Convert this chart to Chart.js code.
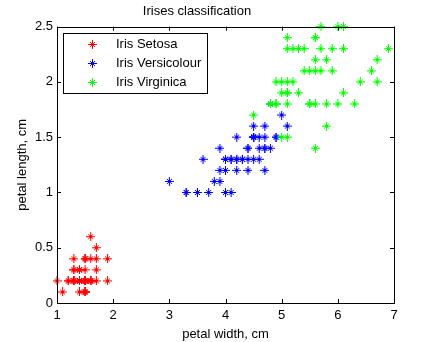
<!DOCTYPE html>
<html>
<head>
<meta charset="utf-8">
<script src="https://cdn.jsdelivr.net/npm/chart.js@4"></script>
<style>
  html, body { margin: 0; padding: 0; background: #fff; }
  #wrap { width: 435px; height: 342px; }
</style>
</head>
<body>
<div id="wrap"><canvas id="iris-canvas" width="435" height="342"></canvas></div>
<script>
/* Fisher iris data: x = petal length, y = petal width (axis titles as in the original figure) */
const SETOSA_X = [1.4,1.4,1.3,1.5,1.4,1.7,1.4,1.5,1.4,1.5,1.5,1.6,1.4,1.1,1.2,1.5,1.3,1.4,1.7,1.5,
  1.7,1.5,1.0,1.7,1.9,1.6,1.6,1.5,1.4,1.6,1.6,1.5,1.5,1.4,1.5,1.2,1.3,1.5,1.3,1.5,
  1.3,1.3,1.3,1.6,1.9,1.4,1.6,1.4,1.5,1.4];
const SETOSA_Y = [0.2,0.2,0.2,0.2,0.2,0.4,0.3,0.2,0.2,0.1,0.2,0.2,0.1,0.1,0.2,0.4,0.4,0.3,0.3,0.3,
  0.2,0.4,0.2,0.5,0.2,0.2,0.4,0.2,0.2,0.2,0.2,0.4,0.1,0.2,0.1,0.2,0.2,0.1,0.2,0.2,
  0.3,0.3,0.2,0.6,0.4,0.3,0.2,0.2,0.2,0.2];

const VERSICOLOUR_X = [4.7,4.5,4.9,4.0,4.6,4.5,4.7,3.3,4.6,3.9,3.5,4.2,4.0,4.7,3.6,4.4,4.5,4.1,4.5,3.9,
  4.8,4.0,4.9,4.7,4.3,4.4,4.8,5.0,4.5,3.5,3.8,3.7,3.9,5.1,4.5,4.5,4.7,4.4,4.1,4.0,
  4.4,4.6,4.0,3.3,4.2,4.2,4.2,4.3,3.0,4.1];
const VERSICOLOUR_Y = [1.4,1.5,1.5,1.3,1.5,1.3,1.6,1.0,1.3,1.4,1.0,1.5,1.0,1.4,1.3,1.4,1.5,1.0,1.5,1.1,
  1.8,1.3,1.5,1.2,1.3,1.4,1.4,1.7,1.5,1.0,1.1,1.0,1.2,1.6,1.5,1.6,1.5,1.3,1.3,1.3,
  1.2,1.4,1.2,1.0,1.3,1.2,1.3,1.3,1.1,1.3];

const VIRGINICA_X = [6.0,5.1,5.9,5.6,5.8,6.6,4.5,6.3,5.8,6.1,5.1,5.3,5.5,5.0,5.1,5.3,5.5,6.7,6.9,5.0,
  5.7,4.9,6.7,4.9,5.7,6.0,4.8,4.9,5.6,5.8,6.1,6.4,5.6,5.1,5.6,6.1,5.6,5.5,4.8,5.4,
  5.6,5.1,5.1,5.9,5.7,5.2,5.0,5.2,5.4,5.1];
const VIRGINICA_Y = [2.5,1.9,2.1,1.8,2.2,2.1,1.7,1.8,1.8,2.5,2.0,1.9,2.1,2.0,2.4,2.3,1.8,2.2,2.3,1.5,
  2.3,2.0,2.0,1.8,2.1,1.8,1.8,1.8,2.1,1.6,1.9,2.0,2.2,1.5,1.4,2.3,2.4,1.8,1.8,2.1,
  2.4,2.3,1.9,2.3,2.5,2.3,1.9,2.0,2.3,1.8];

const CLASS_NAMES = ["Iris Setosa", "Iris Versicolour", "Iris Virginica"];
const X_TICKS = [1, 2, 3, 4, 5, 6, 7];
const Y_TICKS = [0, 0.5, 1, 1.5, 2, 2.5];

(function () {
  const FONT = 'Liberation Sans, Arial, sans-serif';
  const COLORS = ["#ff0000", "#0000ff", "#00ff00"];

  // matlab-like '*' marker: long plus, short diagonals, heavy centre
  function starMarker(color) {
    const c = document.createElement("canvas");
    c.width = 9;
    c.height = 9;
    const g = c.getContext("2d");
    g.fillStyle = color;
    g.fillRect(4, 0, 1, 9);
    g.fillRect(0, 4, 9, 1);
    g.fillRect(3, 3, 3, 3);
    [[2, 2], [6, 2], [2, 6], [6, 6]].forEach(function (p) {
      g.fillRect(p[0], p[1], 1, 1);
    });
    return c;
  }
  const MARKERS = COLORS.map(starMarker);

  function points(xs, ys) {
    return xs.map(function (x, i) { return { x: x, y: ys[i] }; });
  }

  // box round the axes, inward ticks on all four sides, legend inside the plot
  const matlabAxes = {
    id: "matlabAxes",
    afterDraw: function (chart) {
      const ctx = chart.ctx;
      const a = chart.chartArea;
      const xs = chart.scales.x, ys = chart.scales.y;
      ctx.save();
      ctx.strokeStyle = "#000";
      ctx.lineWidth = 1;
      ctx.strokeRect(Math.round(a.left) + 0.5, Math.round(a.top) + 0.5,
        Math.round(a.right - a.left), Math.round(a.bottom - a.top));
      ctx.beginPath();
      X_TICKS.forEach(function (v) {
        const px = Math.round(xs.getPixelForValue(v)) + 0.5;
        ctx.moveTo(px, a.bottom); ctx.lineTo(px, a.bottom - 4);
        ctx.moveTo(px, a.top); ctx.lineTo(px, a.top + 4);
      });
      Y_TICKS.forEach(function (v) {
        const py = Math.round(ys.getPixelForValue(v)) + 0.5;
        ctx.moveTo(a.left, py); ctx.lineTo(a.left + 4, py);
        ctx.moveTo(a.right, py); ctx.lineTo(a.right - 4, py);
      });
      ctx.stroke();

      // legend
      const lx = 63, ly = 33, lw = 144, lh = 60;
      ctx.fillStyle = "#fff";
      ctx.fillRect(lx, ly, lw, lh);
      ctx.strokeRect(lx + 0.5, ly + 0.5, lw, lh);
      ctx.font = "13px " + FONT;
      ctx.textBaseline = "middle";
      CLASS_NAMES.forEach(function (name, i) {
        const cy = 44 + i * 19;
        ctx.drawImage(MARKERS[i], 88, cy - 4);
        ctx.fillStyle = "#000";
        ctx.fillText(name, 116, cy);
      });
      ctx.restore();
    },
  };

  function run() {
    const canvas = document.getElementById("iris-canvas");
    if (!canvas || !window.Chart) return;

    const datasets = [
      points(SETOSA_X, SETOSA_Y),
      points(VERSICOLOUR_X, VERSICOLOUR_Y),
      points(VIRGINICA_X, VIRGINICA_Y),
    ].map(function (data, i) {
      return {
        label: CLASS_NAMES[i],
        data: data,
        order: 2 - i, // later classes drawn over earlier ones
        pointStyle: MARKERS[i],
        pointRadius: 4.5,
        pointHoverRadius: 4.5,
        borderColor: COLORS[i],
        backgroundColor: COLORS[i],
        clip: false,
      };
    });

    new Chart(canvas.getContext("2d"), {
      type: "scatter",
      data: { datasets: datasets },
      options: {
        responsive: false,
        animation: false,
        layout: { padding: { left: 0, right: 41, top: 0, bottom: 0 } },
        plugins: {
          legend: { display: false },
          tooltip: { enabled: false },
          title: {
            display: true,
            text: "Irises classification",
            color: "#000",
            font: { family: FONT, size: 13, weight: "normal" },
            padding: { top: 4, bottom: 7 },
          },
        },
        scales: {
          x: {
            type: "linear",
            min: 1,
            max: 7,
            afterBuildTicks: function (s) { s.ticks = X_TICKS.map(function (v) { return { value: v }; }); },
            afterFit: function (s) { s.height = 39; },
            grid: { display: false, drawTicks: false },
            border: { display: false },
            ticks: { color: "#000", padding: 5, font: { family: FONT, size: 13 } },
            title: {
              display: true,
              text: "petal width, cm",
              color: "#000",
              padding: { top: 2, bottom: 0 },
              font: { family: FONT, size: 13 },
            },
          },
          y: {
            type: "linear",
            min: 0,
            max: 2.5,
            afterBuildTicks: function (s) { s.ticks = Y_TICKS.map(function (v) { return { value: v }; }); },
            afterFit: function (s) { s.width = 57; },
            grid: { display: false, drawTicks: false },
            border: { display: false },
            ticks: {
              color: "#000",
              padding: 4,
              font: { family: FONT, size: 13 },
              callback: function (v) { return String(v); },
            },
            title: {
              display: true,
              text: "petal length, cm",
              color: "#000",
              padding: { top: 15, bottom: 0 },
              font: { family: FONT, size: 13 },
            },
          },
        },
      },
      plugins: [matlabAxes],
    });
  }

  if (document.readyState === "loading") {
    document.addEventListener("DOMContentLoaded", run);
  } else {
    run();
  }
})();
</script>
</body>
</html>
